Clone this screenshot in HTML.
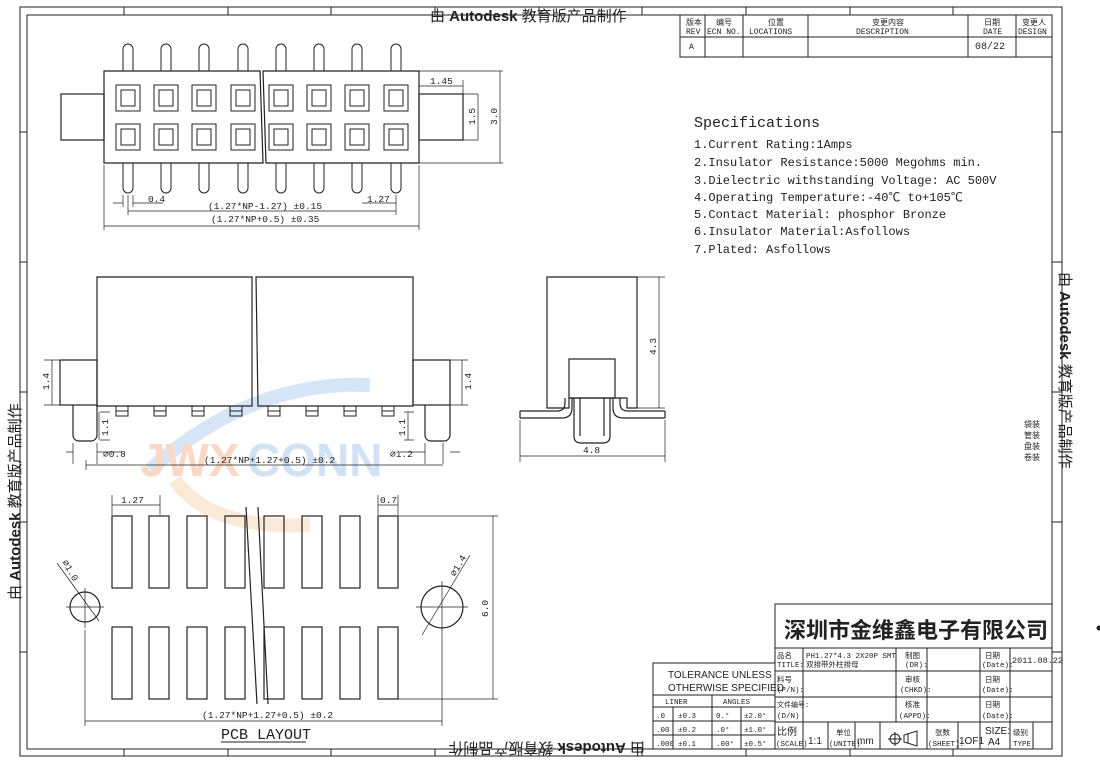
<!DOCTYPE html>
<html><head><meta charset="utf-8"><style>
html,body{margin:0;padding:0;background:#fff;}
svg{display:block;}
text{font-family:"Liberation Serif","Noto Serif CJK SC",serif;fill:#222;}
.m,.m text{font-family:"Liberation Mono","Noto Sans CJK SC",monospace;}
.s,.s text{font-family:"Liberation Sans","Noto Sans CJK SC",sans-serif;}
</style></head><body>
<svg width="1100" height="766" viewBox="0 0 1100 766" xmlns="http://www.w3.org/2000/svg">
<rect width="1100" height="766" fill="#fff"/>
<g opacity="0.4">
<path d="M150 470 Q250 380 370 385" stroke="#9cc3ea" stroke-width="14" fill="none"/>
<path d="M175 480 Q210 530 310 525" stroke="#f6c9a0" stroke-width="14" fill="none"/>
<text x="140" y="476" class="s" font-size="46" font-weight="bold" style="fill:#f5a070">JWX</text>
<text x="247" y="476" class="s" font-size="46" font-weight="bold" style="fill:#8fb8e6">CONN</text>
</g>
<g fill="none" stroke="#222" stroke-width="1">
<rect x="20" y="7" width="1042" height="749"/>
<rect x="27" y="15" width="1025" height="734"/>
<path d="M124 7v8M228 7v8M331 7v8M435 7v8M539 7v8M642 7v8M746 7v8M850 7v8M953 7v8M124 749v7M228 749v7M331 749v7M435 749v7M539 749v7M642 749v7M746 749v7M850 749v7M953 749v7M20 132h7M20 262h7M20 392h7M20 522h7M20 652h7M1052 132h10M1052 262h10M1052 392h10M1052 522h10M1052 652h10"/>
<rect x="680" y="15" width="372" height="42"/>
<path d="M680 37h372M705 15v42M743 15v42M808 15v42M968 15v42M1016 15v42"/>
<g stroke-width="1.2">
<path d="M104 71h156l3 92H104zM263 71h156v92H266z"/>
<rect x="61" y="94" width="43" height="46"/>
<rect x="419" y="94" width="44" height="46"/>
</g>
<g>
<path d="M123 71V49a5 5 0 0 1 10 0V71M123 163v25a5 5 0 0 0 10 0v-25"/>
<path d="M161 71V49a5 5 0 0 1 10 0V71M161 163v25a5 5 0 0 0 10 0v-25"/>
<path d="M199 71V49a5 5 0 0 1 10 0V71M199 163v25a5 5 0 0 0 10 0v-25"/>
<path d="M238 71V49a5 5 0 0 1 10 0V71M238 163v25a5 5 0 0 0 10 0v-25"/>
<path d="M276 71V49a5 5 0 0 1 10 0V71M276 163v25a5 5 0 0 0 10 0v-25"/>
<path d="M314 71V49a5 5 0 0 1 10 0V71M314 163v25a5 5 0 0 0 10 0v-25"/>
<path d="M352 71V49a5 5 0 0 1 10 0V71M352 163v25a5 5 0 0 0 10 0v-25"/>
<path d="M391 71V49a5 5 0 0 1 10 0V71M391 163v25a5 5 0 0 0 10 0v-25"/>
</g>
<g>
<rect x="116" y="85" width="24" height="26"/><rect x="121" y="90" width="14" height="16"/>
<rect x="154" y="85" width="24" height="26"/><rect x="159" y="90" width="14" height="16"/>
<rect x="192" y="85" width="24" height="26"/><rect x="197" y="90" width="14" height="16"/>
<rect x="231" y="85" width="24" height="26"/><rect x="236" y="90" width="14" height="16"/>
<rect x="269" y="85" width="24" height="26"/><rect x="274" y="90" width="14" height="16"/>
<rect x="307" y="85" width="24" height="26"/><rect x="312" y="90" width="14" height="16"/>
<rect x="345" y="85" width="24" height="26"/><rect x="350" y="90" width="14" height="16"/>
<rect x="384" y="85" width="24" height="26"/><rect x="389" y="90" width="14" height="16"/>
<rect x="116" y="124" width="24" height="26"/><rect x="121" y="129" width="14" height="16"/>
<rect x="154" y="124" width="24" height="26"/><rect x="159" y="129" width="14" height="16"/>
<rect x="192" y="124" width="24" height="26"/><rect x="197" y="129" width="14" height="16"/>
<rect x="231" y="124" width="24" height="26"/><rect x="236" y="129" width="14" height="16"/>
<rect x="269" y="124" width="24" height="26"/><rect x="274" y="129" width="14" height="16"/>
<rect x="307" y="124" width="24" height="26"/><rect x="312" y="129" width="14" height="16"/>
<rect x="345" y="124" width="24" height="26"/><rect x="350" y="129" width="14" height="16"/>
<rect x="384" y="124" width="24" height="26"/><rect x="389" y="129" width="14" height="16"/>
</g>
<g stroke-width="0.7">
<path d="M419 86h44M463 80v14M430 94h48M430 140h48M478 94v46M419 71h84M419 163h84M500 71v92"/>
<path d="M104 165v65M419 165v65M104 226h315M128 195v20M396 195v20M128 211h268M123 195v12M133 195v12M113 203h10M133 203h30M362 203h34"/>
</g>
<g stroke-width="1.2">
<path d="M97 277h155v129H97zM256 277h157v129H258z"/>
<rect x="60" y="360" width="37" height="45"/>
<rect x="413" y="360" width="37" height="45"/>
<path d="M73 405v30a6 6 0 0 0 6 6h12a6 6 0 0 0 6 -6v-30M425 405v30a6 6 0 0 0 6 6h13a6 6 0 0 0 6 -6v-30"/>
</g>
<g>
<rect x="116" y="406" width="12" height="10"/><rect x="154" y="406" width="12" height="10"/><rect x="192" y="406" width="12" height="10"/><rect x="230" y="406" width="12" height="10"/>
<rect x="268" y="406" width="12" height="10"/><rect x="306" y="406" width="12" height="10"/><rect x="344" y="406" width="12" height="10"/><rect x="382" y="406" width="12" height="10"/>
<path d="M116 411h12M154 411h12M192 411h12M230 411h12M268 411h12M306 411h12M344 411h12M382 411h12"/>
</g>
<g stroke-width="0.7">
<path d="M44 360h16M44 405h16M52 360v45M450 360h18M450 405h18M462 360v45M99 412v28M100 412h10M100 440h10M408 412v28M404 412h10M404 440h10M73 443v21M97 443v21M86 460v10M443 443v21M425 443v21M86 465h357M66 452h7M97 452h25M400 452h25M450 452h10"/>
</g>
<g stroke-width="1.2">
<path d="M547 408V277h90v131h-10v-10h-58v10z"/>
<rect x="569" y="359" width="46" height="39"/>
<path d="M520 411h37q8 0 8 -8v-5M520 418h42q10 0 10 -10v-10M665 411h-37q-8 0 -8 -8v-5M665 418h-42q-10 0 -10 -10v-10M520 411v7M665 411v7"/>
<path d="M574 398v38q0 7 7 7h22q7 0 7 -7v-38M580 398v38M604 398v38"/>
</g>
<g stroke-width="0.7">
<path d="M637 277h28M637 408h28M659 277v131M520 420v42M665 420v42M520 456h145"/>
</g>
<g stroke-width="1.2">
<rect x="112" y="516" width="20" height="72"/><rect x="149" y="516" width="20" height="72"/><rect x="187" y="516" width="20" height="72"/><rect x="225" y="516" width="20" height="72"/>
<rect x="264" y="516" width="20" height="72"/><rect x="302" y="516" width="20" height="72"/><rect x="340" y="516" width="20" height="72"/><rect x="378" y="516" width="20" height="72"/>
<rect x="112" y="627" width="20" height="72"/><rect x="149" y="627" width="20" height="72"/><rect x="187" y="627" width="20" height="72"/><rect x="225" y="627" width="20" height="72"/>
<rect x="264" y="627" width="20" height="72"/><rect x="302" y="627" width="20" height="72"/><rect x="340" y="627" width="20" height="72"/><rect x="378" y="627" width="20" height="72"/>
<circle cx="85" cy="607" r="15"/><circle cx="442" cy="607" r="21"/>
<path d="M246 507l11 197M258 507l10 197"/>
</g>
<g stroke-width="0.7">
<path d="M66 607h38M85 588v40M416 607h52M442 581v52M57 563l42 58M470 555l-48 80M112 495v20M160 495v20M112 505h48M378 495v20M398 495v20M378 505h20M398 516h100M398 699h100M493 516v183M85 630v96M442 630v96M85 721h357"/>
</g>
<rect x="653" y="663" width="122" height="86"/>
<path d="M653 695h122M653 707h122M653 721h122M653 735h122M712 695v54M673 707v42M741 707v42"/>
<rect x="775" y="604" width="277" height="145"/>
<path d="M775 648h277M775 671h277M775 697h277M775 722h277M803 648v101M896 648v74M927 648v101M980 648v101M1010 648v101M828 722v27M855 722v27M880 722v27M958 722v27M1033 722v27"/>
<circle cx="895" cy="739" r="5"/><path d="M888 739h14M895 732v14"/><path d="M904 735l13 -4v15l-13 -4z M908 734v9"/>
</g>
<g font-size="8" class="m">
<text x="686" y="25">版本</text><text x="686" y="34">REV</text>
<text x="716" y="25">编号</text><text x="707" y="34">ECN NO.</text>
<text x="768" y="25">位置</text><text x="749" y="34">LOCATIONS</text>
<text x="872" y="25">变更内容</text><text x="856" y="34">DESCRIPTION</text>
<text x="984" y="25">日期</text><text x="983" y="34">DATE</text>
<text x="1022" y="25">变更人</text><text x="1018" y="34">DESIGN</text>
<text x="689" y="49">A</text><text x="975" y="49" font-size="10">08/22</text>
</g>
<text x="430" y="21" class="s" font-size="15"><tspan>由 </tspan><tspan font-weight="bold">Autodesk</tspan><tspan> 教育版产品制作</tspan></text>
<text transform="translate(645,743) rotate(180)" class="s" font-size="15"><tspan>由 </tspan><tspan font-weight="bold">Autodesk</tspan><tspan> 教育版产品制作</tspan></text>
<text transform="translate(20,600) rotate(-90)" class="s" font-size="15"><tspan>由 </tspan><tspan font-weight="bold">Autodesk</tspan><tspan> 教育版产品制作</tspan></text>
<text transform="translate(1060,272) rotate(90)" class="s" font-size="15"><tspan>由 </tspan><tspan font-weight="bold">Autodesk</tspan><tspan> 教育版产品制作</tspan></text>
<g font-size="9.5" class="m">
<text x="430" y="84">1.45</text>
<text transform="translate(475,125) rotate(-90)">1.5</text>
<text transform="translate(497,125) rotate(-90)">3.0</text>
<text x="148" y="202">0.4</text><text x="367" y="202">1.27</text>
<text x="208" y="209">(1.27*NP-1.27) ±0.15</text>
<text x="211" y="222">(1.27*NP+0.5) ±0.35</text>
<text transform="translate(49,390) rotate(-90)">1.4</text>
<text transform="translate(471,390) rotate(-90)">1.4</text>
<text transform="translate(108,436) rotate(-90)">1.1</text>
<text transform="translate(405,436) rotate(-90)">1.1</text>
<text x="103" y="457">⌀0.8</text><text x="390" y="457">⌀1.2</text>
<text x="204" y="463">(1.27*NP+1.27+0.5) ±0.2</text>
<text transform="translate(656,355) rotate(-90)">4.3</text>
<text x="583" y="453">4.8</text>
<text x="121" y="503">1.27</text><text x="380" y="503">0.7</text>
<text transform="translate(488,617) rotate(-90)">6.0</text>
<text transform="translate(62,562) rotate(60)">⌀1.0</text>
<text transform="translate(455,577) rotate(-60)">⌀1.4</text>
<text x="202" y="718">(1.27*NP+1.27+0.5) ±0.2</text>
</g>
<text x="221" y="739" class="m" font-size="15">PCB LAYOUT</text>
<path d="M221 742h85" stroke="#222"/>
<text x="694" y="127" class="m" font-size="15">Specifications</text>
<g class="m" font-size="12">
<text x="694" y="148">1.Current Rating:1Amps</text>
<text x="694" y="166">2.Insulator Resistance:5000 Megohms min.</text>
<text x="694" y="184">3.Dielectric withstanding Voltage: AC 500V</text>
<text x="694" y="201">4.Operating Temperature:-40℃ to+105℃</text>
<text x="694" y="218">5.Contact Material: phosphor Bronze</text>
<text x="694" y="235">6.Insulator Material:Asfollows</text>
<text x="694" y="253">7.Plated: Asfollows</text>
</g>
<g font-size="8" class="m"><text x="1024" y="427">袋装</text><text x="1024" y="438">管装</text><text x="1024" y="449">盘装</text><text x="1024" y="460">卷装</text></g>
<circle cx="1099" cy="628" r="2.5" fill="#222"/>
<text x="784" y="638" class="s" font-size="22" font-weight="bold">深圳市金维鑫电子有限公司</text>
<g class="s" font-size="10">
<text x="668" y="678">TOLERANCE UNLESS</text><text x="668" y="691">OTHERWISE SPECIFIED</text>
</g>
<g class="m" font-size="7.5">
<text x="665" y="704">LINER</text><text x="723" y="704">ANGLES</text>
<text x="656" y="718">.0</text><text x="678" y="718">±0.3</text><text x="716" y="718">0.°</text><text x="744" y="718">±2.0°</text>
<text x="656" y="732">.00</text><text x="678" y="732">±0.2</text><text x="716" y="732">.0°</text><text x="744" y="732">±1.0°</text>
<text x="656" y="746">.000</text><text x="678" y="746">±0.1</text><text x="716" y="746">.00°</text><text x="744" y="746">±0.5°</text>
<text x="777" y="658">品名</text><text x="777" y="667">TITLE:</text>
<text x="806" y="658">PH1.27*4.3 2X20P SMT</text><text x="806" y="667">双排带外柱排母</text>
<text x="905" y="658">制图</text><text x="905" y="667">(DR):</text>
<text x="985" y="658">日期</text><text x="982" y="667">(Date):</text>
<text x="1012" y="663" font-size="8.5">2011.08.22</text>
<text x="777" y="682">料号</text><text x="777" y="692">(P/N):</text>
<text x="905" y="682">审核</text><text x="900" y="692">(CHKD):</text>
<text x="985" y="682">日期</text><text x="982" y="692">(Date):</text>
<text x="777" y="707" font-size="7">文件编号:</text><text x="777" y="718">(D/N)</text>
<text x="905" y="707">核准</text><text x="899" y="718">(APPD):</text>
<text x="985" y="707">日期</text><text x="982" y="718">(Date):</text>
<text x="777" y="735" font-size="10">比例</text><text x="776" y="746">(SCALE)</text>
<text x="836" y="735">单位</text><text x="829" y="746">(UNITE)</text>
<text x="935" y="735">张数</text><text x="928" y="746">(SHEET):</text>
<text x="1013" y="735">级别</text><text x="1013" y="746">TYPE:</text>
</g>
<g class="s" font-size="10"><text x="808" y="744">1:1</text><text x="857" y="744">mm</text><text x="959" y="744">1OF1</text><text x="985" y="734">SIZE:</text><text x="988" y="745">A4</text></g>
</svg>
</body></html>
